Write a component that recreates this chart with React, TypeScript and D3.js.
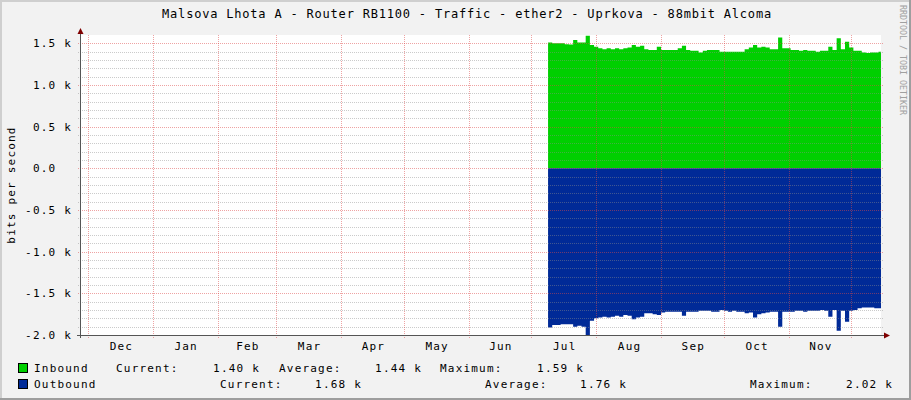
import React from 'react';
import * as d3 from 'd3';

const W = 911;
const H = 400;

const title = 'Malsova Lhota A - Router RB1100 - Traffic - ether2 - Uprkova - 88mbit Alcoma';
const yAxisTitle = 'bits per second';
const watermark = 'RRDTOOL / TOBI OETIKER';

const monthLabels = ['Dec', 'Jan', 'Feb', 'Mar', 'Apr', 'May', 'Jun', 'Jul', 'Aug', 'Sep', 'Oct', 'Nov'];
const yTickValues = [-2000, -1500, -1000, -500, 0, 500, 1000, 1500];
const yTickLabels = ['-2.0 k', '-1.5 k', '-1.0 k', '-0.5 k', '0.0', '0.5 k', '1.0 k', '1.5 k'];

// 2-day samples from 9 Jul 2013, bits per second
const inbound = [
  1510, 1500, 1500, 1500, 1490, 1485, 1540, 1510, 1510, 1590,
  1480, 1460, 1440, 1430, 1440, 1430, 1440, 1430, 1440, 1450,
  1480, 1460, 1470, 1430, 1420, 1420, 1460, 1420, 1420, 1420,
  1420, 1440, 1470, 1420, 1410, 1410, 1390, 1410, 1420, 1420,
  1420, 1400, 1400, 1400, 1400, 1400, 1400, 1430, 1450, 1480,
  1450, 1460, 1450, 1430, 1430, 1570, 1440, 1440, 1420, 1420,
  1410, 1420, 1410, 1410, 1400, 1410, 1410, 1460, 1420, 1560,
  1430, 1520, 1450, 1410, 1410, 1390, 1385, 1390, 1390, 1400,
];
const outbound = [
  1910, 1880, 1880, 1870, 1870, 1870, 1900, 1890, 1900, 2020,
  1830, 1800, 1790, 1780, 1790, 1780, 1770, 1780, 1760, 1770,
  1810, 1790, 1780, 1740, 1740, 1750, 1760, 1730, 1720, 1720,
  1720, 1720, 1770, 1720, 1720, 1720, 1710, 1710, 1710, 1720,
  1720, 1700, 1710, 1720, 1710, 1720, 1720, 1740, 1730, 1790,
  1750, 1740, 1730, 1720, 1720, 1900, 1720, 1720, 1720, 1710,
  1710, 1720, 1710, 1710, 1710, 1700, 1710, 1780, 1700, 1950,
  1710, 1840, 1710, 1700, 1680, 1670, 1670, 1670, 1680, 1680,
];

const inboundStats = ['1.40 k', '1.44 k', '1.59 k'];
const outboundStats = ['1.68 k', '1.76 k', '2.02 k'];

const GREEN = '#00CF00';
const BLUE = '#002A97';
const FONT = '"DejaVu Sans Mono", monospace';

const App = () => {
  const left = 81, right = 881, top = 35, bottom = 335;

  const x = d3.scaleTime()
    .domain([new Date(2012, 10, 27, 16), new Date(2013, 11, 15, 5)])
    .range([left, right]);
  const y = d3.scaleLinear().domain([-2000, 1600]).range([bottom, top]);

  const start = new Date(2013, 6, 9);
  const toSeries = (vals: number[], sign: number) => {
    const s = vals.map((v, i) => ({ t: d3.timeDay.offset(start, i * 2), v: sign * v }));
    s.push({ t: d3.timeDay.offset(start, vals.length * 2), v: sign * vals[vals.length - 1] });
    return s;
  };

  const area = d3.area<{ t: Date; v: number }>()
    .x(d => x(d.t))
    .y0(y(0))
    .y1(d => y(d.v))
    .curve(d3.curveStepAfter);

  const months = d3.timeMonth.range(new Date(2012, 11, 1), new Date(2013, 11, 2));
  const minorTicks = d3.range(-1900, 1600, 100).filter(v => v % 500 !== 0);

  const txt = { fontFamily: FONT, fontSize: 11, letterSpacing: 1.2 } as const;

  return (
    <svg width={W} height={H} style={{ display: 'block', position: 'absolute', left: 0, top: 0 }}>
      <rect x={0} y={0} width={W} height={H} fill="#F2F2F2" />
      <rect x={0} y={0} width={W} height={2} fill="#CFCFCF" />
      <rect x={0} y={0} width={2} height={H} fill="#CFCFCF" />
      <rect x={0} y={H - 2} width={W} height={2} fill="#9E9E9E" />
      <rect x={W - 2} y={0} width={2} height={H} fill="#9E9E9E" />

      <text x={467} y={18} textAnchor="middle" fontFamily={FONT} fontSize={12} letterSpacing={0.8}>{title}</text>

      <text transform={`translate(900,5) rotate(90)`} fontFamily={FONT} fontSize={8.3} fill="#A0A0A0">{watermark}</text>

      <rect x={left} y={top} width={right - left} height={bottom - top} fill="#FFFFFF" />

      <defs>
        <clipPath id="plot-clip">
          <rect x={left} y={top} width={right - left} height={bottom - top} />
        </clipPath>
      </defs>
      <g clipPath="url(#plot-clip)">
        <path d={area(toSeries(inbound, 1)) || ''} fill={GREEN} />
        <path d={area(toSeries(outbound, -1)) || ''} fill={BLUE} />
      </g>

      {/* grid on top of the data, like rrdtool */}
      {minorTicks.map(v => (
        <line key={'mi' + v} x1={78} x2={884} y1={Math.round(y(v)) + 0.5} y2={Math.round(y(v)) + 0.5}
          stroke="rgba(140,140,140,0.45)" strokeDasharray="1,1" />
      ))}
      {yTickValues.filter(v => v > -2000).map(v => (
        <line key={'ma' + v} x1={78} x2={884} y1={Math.round(y(v)) + 0.5} y2={Math.round(y(v)) + 0.5}
          stroke="rgba(222,72,72,0.5)" strokeDasharray="1,1" />
      ))}
      {months.map(m => (
        <line key={'v' + m.getTime()} x1={Math.round(x(m)) + 0.5} x2={Math.round(x(m)) + 0.5} y1={top} y2={338}
          stroke="rgba(222,72,72,0.5)" strokeDasharray="1,1" />
      ))}

      {/* axes */}
      <line x1={80.5} x2={80.5} y1={31} y2={338} stroke="#555" />
      <line x1={77} x2={885} y1={335.5} y2={335.5} stroke="#555" />
      <path d="M80.5,28 L77.5,34 L83.5,34 Z" fill="#7F0000" />
      <path d="M890,335.5 L884,332.5 L884,338.5 Z" fill="#7F0000" />

      {yTickValues.map((v, i) => (
        <text key={'yl' + v} x={72} y={y(v) + 4} textAnchor="end" {...txt}>
          {yTickLabels[i].includes('k') ? yTickLabels[i] : yTickLabels[i] + '\u00a0\u00a0'}
        </text>
      ))}

      {monthLabels.map((lab, i) => (
        <text key={'xl' + i} x={(x(months[i]) + x(months[i + 1])) / 2 + 1} y={350} textAnchor="middle" {...txt}>{lab}</text>
      ))}

      <text transform={`translate(15,185) rotate(-90)`} textAnchor="middle" {...txt}>{yAxisTitle}</text>

      {/* legend */}
      <rect x={18.5} y={363.5} width={9} height={9} fill={GREEN} stroke="#000" />
      <rect x={18.5} y={379.5} width={9} height={9} fill={BLUE} stroke="#000" />

      <text x={34} y={372} {...txt}>Inbound</text>
      <text x={116} y={372} {...txt}>Current:</text>
      <text x={260} y={372} textAnchor="end" {...txt}>{inboundStats[0]}</text>
      <text x={279} y={372} {...txt}>Average:</text>
      <text x={422} y={372} textAnchor="end" {...txt}>{inboundStats[1]}</text>
      <text x={440} y={372} {...txt}>Maximum:</text>
      <text x={584} y={372} textAnchor="end" {...txt}>{inboundStats[2]}</text>

      <text x={34} y={388} {...txt}>Outbound</text>
      <text x={220} y={388} {...txt}>Current:</text>
      <text x={362} y={388} textAnchor="end" {...txt}>{outboundStats[0]}</text>
      <text x={485} y={388} {...txt}>Average:</text>
      <text x={627} y={388} textAnchor="end" {...txt}>{outboundStats[1]}</text>
      <text x={750} y={388} {...txt}>Maximum:</text>
      <text x={893} y={388} textAnchor="end" {...txt}>{outboundStats[2]}</text>
    </svg>
  );
};

export default App;
